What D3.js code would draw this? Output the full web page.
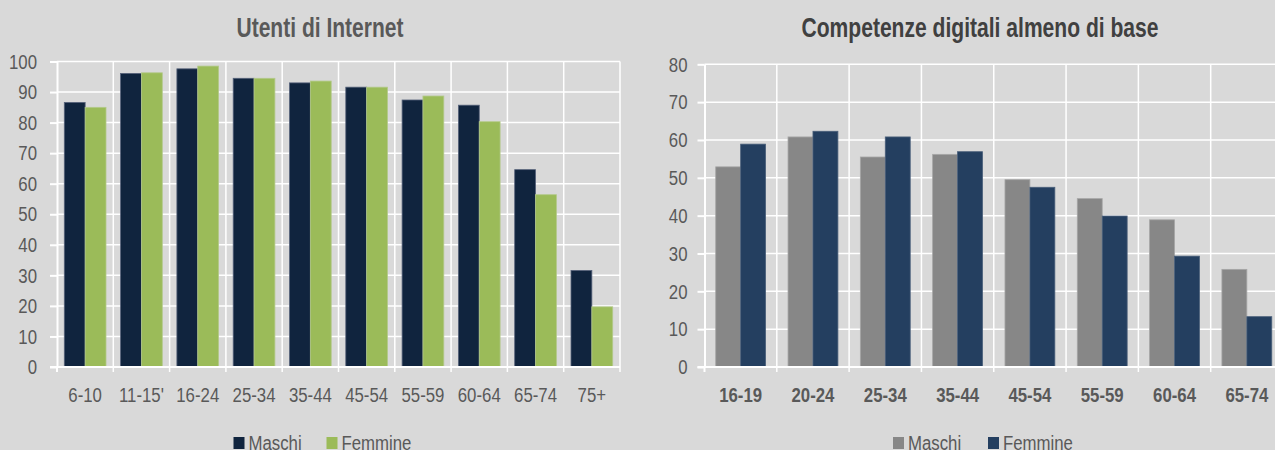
<!DOCTYPE html>
<html>
<head>
  <meta charset="utf-8">
  <title>Utenti di Internet / Competenze digitali</title>
  <script src="https://cdn.jsdelivr.net/npm/d3@7"></script>
  <style>
    body { margin: 0; background: #d9d9d9; }
    svg { display: block; font-family: "Liberation Sans", Arial, sans-serif; }
  </style>
</head>
<body>
  <script>
    // dati grafico sinistro
    const etaInternet = ["6-10", "11-15'", "16-24", "25-34", "35-44", "45-54", "55-59", "60-64", "65-74", "75+"];
    const internetMaschi = [86.6, 96.1, 97.6, 94.5, 93.0, 91.6, 87.4, 85.7, 64.6, 31.6];
    const internetFemmine = [85.0, 96.3, 98.5, 94.5, 93.6, 91.6, 88.7, 80.3, 56.4, 19.7];
    const ticksInternet = [0, 10, 20, 30, 40, 50, 60, 70, 80, 90, 100];

    // dati grafico destro
    const etaCompetenze = ["16-19", "20-24", "25-34", "35-44", "45-54", "55-59", "60-64", "65-74"];
    const competenzeMaschi = [52.9, 60.8, 55.5, 56.2, 49.5, 44.5, 38.9, 25.8];
    const competenzeFemmine = [58.9, 62.3, 60.8, 56.9, 47.5, 39.9, 29.3, 13.3];
    const ticksCompetenze = [0, 10, 20, 30, 40, 50, 60, 70, 80];

    const serie = ["Maschi", "Femmine"];

    const w = 1275;
    const h = 450;
    const narrow = 0.8; // testo stretto tipo Arial Narrow

    const svg = d3.select("body")
      .append("svg")
      .attr("width", w)
      .attr("height", h);

    svg.append("rect")
      .attr("width", w)
      .attr("height", h)
      .attr("fill", "#d9d9d9");

    function drawChart(opt) {
      const g = svg.append("g");

      const x = d3.scaleBand()
        .domain(opt.cats)
        .range([opt.x0, opt.x1]);

      const xs = d3.scaleBand()
        .domain(serie)
        .range([0, x.bandwidth()])
        .paddingOuter(opt.pad);

      const y = d3.scaleLinear()
        .domain([0, d3.max(opt.ticks)])
        .range([opt.yBot, opt.yTop]);

      // griglia orizzontale
      g.selectAll(".hgrid")
        .data(opt.ticks.slice(1))
        .enter()
        .append("line")
        .attr("x1", opt.x0)
        .attr("x2", opt.x1)
        .attr("y1", d => y(d))
        .attr("y2", d => y(d))
        .attr("stroke", "#ffffff")
        .attr("stroke-width", 1.5);

      // griglia verticale
      g.selectAll(".vgrid")
        .data(opt.cats)
        .enter()
        .append("line")
        .attr("x1", d => x(d) + x.bandwidth())
        .attr("x2", d => x(d) + x.bandwidth())
        .attr("y1", opt.yTop)
        .attr("y2", opt.yBot + 5)
        .attr("stroke", "#ffffff")
        .attr("stroke-width", 1.5);

      // barre
      const rows = opt.cats.map((c, i) => ({ cat: c, vals: [opt.m[i], opt.f[i]] }));
      const grp = g.selectAll(".grp")
        .data(rows)
        .enter()
        .append("g")
        .attr("transform", d => "translate(" + x(d.cat) + ",0)");

      grp.selectAll("rect")
        .data(d => d.vals.map((v, j) => ({ s: serie[j], v: v })))
        .enter()
        .append("rect")
        .attr("x", d => xs(d.s))
        .attr("y", d => y(d.v))
        .attr("width", xs.bandwidth())
        .attr("height", d => opt.yBot - y(d.v))
        .attr("fill", (d, j) => opt.colors[j])
        .attr("stroke", (d, j) => opt.strokes[j])
        .attr("stroke-width", 0.8);

      // asse y
      const yAxis = g.append("g")
        .attr("transform", "translate(" + opt.x0 + ",0)")
        .call(d3.axisLeft(y).tickValues(opt.ticks).tickSize(7).tickSizeOuter(0));
      yAxis.select(".domain").attr("stroke", "#ffffff").attr("stroke-width", 2);
      yAxis.selectAll(".tick line").attr("stroke", "#ffffff").attr("stroke-width", 2);
      yAxis.selectAll(".tick text")
        .attr("x", null)
        .attr("transform", "translate(" + (-opt.tickPad) + ",0) scale(" + narrow + ",1)")
        .attr("fill", "#595959")
        .style("font-size", "21px");

      // asse x
      g.append("line")
        .attr("x1", opt.x0 - 7)
        .attr("x2", opt.x1)
        .attr("y1", opt.yBot)
        .attr("y2", opt.yBot)
        .attr("stroke", "#ffffff")
        .attr("stroke-width", 2);

      g.append("line")
        .attr("x1", opt.x0)
        .attr("x2", opt.x0)
        .attr("y1", opt.yBot)
        .attr("y2", opt.yBot + 5)
        .attr("stroke", "#ffffff")
        .attr("stroke-width", 2);

      g.selectAll(".xlab")
        .data(opt.cats)
        .enter()
        .append("text")
        .attr("transform", d => "translate(" + (x(d) + x.bandwidth() / 2) + ",402) scale(" + narrow + ",1)")
        .attr("text-anchor", "middle")
        .attr("fill", "#595959")
        .attr("font-weight", opt.boldX ? "bold" : "normal")
        .style("font-size", "21px")
        .text(d => d);

      // titolo
      g.append("text")
        .attr("x", opt.titleX - opt.titleW / 2)
        .attr("y", 37)
        .attr("textLength", opt.titleW)
        .attr("lengthAdjust", "spacingAndGlyphs")
        .attr("fill", opt.titleColor)
        .attr("font-weight", "bold")
        .style("font-size", "27px")
        .text(opt.title);

      // legenda
      const leg = g.selectAll(".leg")
        .data(serie)
        .enter()
        .append("g")
        .attr("transform", (d, i) => "translate(" + opt.legX[i] + ",0)");
      leg.append("rect")
        .attr("x", 0)
        .attr("y", 437)
        .attr("width", 11)
        .attr("height", 12)
        .attr("fill", (d, i) => opt.colors[i]);
      leg.append("text")
        .attr("transform", "translate(15,449.5) scale(" + narrow + ",1)")
        .attr("fill", "#595959")
        .style("font-size", "21px")
        .text(d => d);
    }

    drawChart({
      cats: etaInternet, m: internetMaschi, f: internetFemmine, ticks: ticksInternet,
      x0: 57, x1: 620, yTop: 61.5, yBot: 367, pad: 0.35, tickPad: 20,
      colors: ["#10243e", "#9bbb59"], strokes: ["#56627a", "#b3c98a"],
      boldX: false, title: "Utenti di Internet", titleX: 320, titleW: 167, titleColor: "#595959",
      legX: [233.5, 326.5]
    });

    drawChart({
      cats: etaCompetenze, m: competenzeMaschi, f: competenzeFemmine, ticks: ticksCompetenze,
      x0: 704.5, x1: 1283, yTop: 64.3, yBot: 367, pad: 0.45, tickPad: 17,
      colors: ["#878787", "#243f60"], strokes: ["#a6a6a6", "#4a5f7a"],
      boldX: true, title: "Competenze digitali almeno di base", titleX: 980, titleW: 357, titleColor: "#404040",
      legX: [893, 988]
    });
  </script>
</body>
</html>
